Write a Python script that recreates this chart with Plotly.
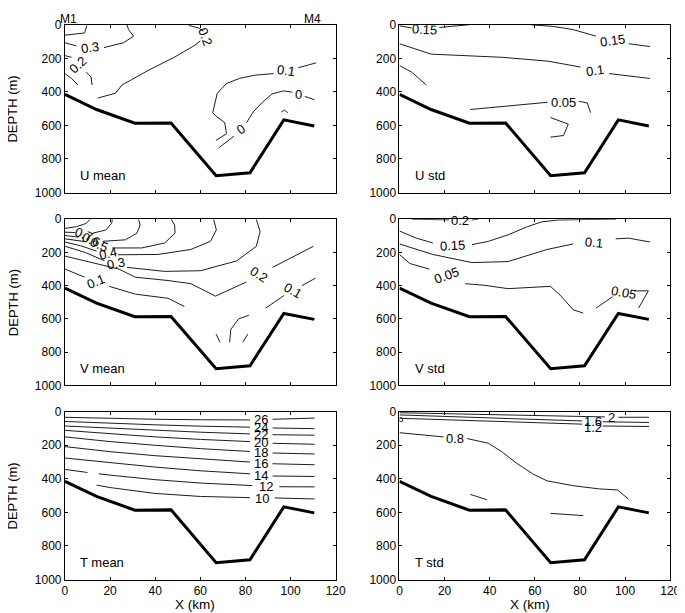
import plotly.graph_objects as go

# ---------------- data ----------------
BATHY_X = [0, 14, 31, 47, 67, 82, 97, 110.5]
BATHY_D = [415, 505, 587, 585, 900, 882, 567, 603]

X_TICKS = [0, 20, 40, 60, 80, 100, 120]
D_TICKS = [0, 200, 400, 600, 800, 1000]

PANEL_TITLES = ["U mean", "U std", "V mean", "V std", "T mean", "T std"]
MOORINGS = ["M1", "M4"]
MOORING_X = [1.5, 109.5]

# contour polylines: (level, x_km, depth_m); None = gap left for the inline label
U_MEAN_LINES = [
    (0.4, [0, 8.7, 9.7], [62, 49, 4]),
    (0.3, [0, 5, None, 17.3, 26, 30.4, 28.2, 27.5], [107, 126, None, 136, 107, 68, 29, 0]),
    (0.2, [0, 2.9, None, 9.4, 11.6, 12], [184, 194, None, 282, 311, 359]),
    (0.1, [0, 2.9, 5.8], [291, 320, 359]),
    (0.2, [14.5, 22.4, 25.3, 36.9, 48.4, 57.1, 60.0, None, 61.4, 59.3, 54.9],
          [437, 408, 359, 272, 194, 126, 97, None, 39, 19, 4]),
    (0.1, [111.3, 103.4, None, 92.5, 83.9, 77.3, 71.6, 67.5, 66.5, 65.5, 66.9, 70.8, 71.6, 66.9],
          [227, 256, None, 291, 301, 320, 350, 408, 466, 524, 544, 583, 650, 689]),
    (0.0, [110.6, 106.3, None, 100.8, 96.9, 91.8, 87.5, 83.4, 80.5, None, 74.9, 68.1],
          [447, 427, None, 402, 394, 412, 462, 520, 583, None, 664, 734]),
    (0.0, [95.9, 97.3, 98.7], [520, 509, 524]),
]
U_MEAN_LABELS = [("0.3", 11.3, 138, -8), ("0.2", 6.0, 238, -42), ("0.2", 62.3, 68, 70),
                 ("0.1", 97.8, 275, 8), ("0", 103.5, 418, 0), ("0", 77.8, 622, -30)]

U_STD_LINES = [
    (0.15, [0, 5.4, None, 17.7, 30.7], [6, 19, None, 16, 0]),
    (0.15, [58.2, 68.3, 77, 87.1, None, 101.6, 111], [0, 10, 29, 68, None, 113, 130]),
    (0.1, [0, 14, 45.6, 65.9, 80.2, None, 92.9, 100.1, 111], [113, 175, 194, 217, 252, None, 291, 301, 320]),
    (0.1, [0, 5.4, 11.9], [243, 282, 359]),
    (0.05, [31.4, 65.6, None, 79.6, 83.2, 84.7], [505, 462, None, 456, 466, 524]),
    (0.05, [66.9, 74.8, 72.7, 66.9], [553, 592, 660, 670]),
]
U_STD_LABELS = [("0.15", 11.2, 26, 3), ("0.15", 94.4, 95, -8), ("0.1", 86.5, 275, -8),
                ("0.05", 72.6, 462, 0)]

V_MEAN_LINES = [
    (0.8, [0, 5.1, 9.4, 11.2], [55, 45, 25, 0]),
    (0.7, [0, 4.5, None, 12.3, 18.1, 20.7, 21], [78, 80, None, 84, 65, 25, 0]),
    (0.6, [0, 6, None, 16.7, 26.8, 31.9, 33.3, 32.6], [98, 108, None, 133, 124, 84, 35, 0]),
    (0.5, [0, 9, None, 21, 34, 44.2, 48.8, 48.6, 47.1], [118, 135, None, 173, 173, 143, 84, 35, 0]),
    (0.4, [0, 7, 14, None, 23.5, 41.3, 55.8, 64.5, 67.1, 65.9], [137, 160, 192, None, 214, 212, 182, 133, 65, 0]),
    (0.3, [0, 9, 17.5, None, 27.5, 44.2, 60.1, 76.1, 84.8, 86.5, 84.8],
          [163, 200, 250, None, 290, 314, 310, 251, 163, 75, 0]),
    (0.2, [0, 12.3, 23.9, 31.2, 45.7, 55.8, 66.7, 80.4, None, 92, 110.1],
          [222, 261, 300, 349, 369, 388, 463, 378, None, 290, 163]),
    (0.1, [0, 8.7, None, 19.6, 31.2, 45.7, 52.9], [300, 349, None, 404, 451, 476, 525]),
    (0.1, [89, 97, None, 105, 111], [535, 460, None, 400, 355]),
    (0.1, [67, 68.7], [692, 741]),
    (0.2, [73, 73.5, 77, 81.5], [741, 663, 600, 578]),
    (0.1, [78.8, 81], [741, 692]),
]
V_MEAN_LABELS = [("0.7", 8.6, 90, 22), ("0.6", 11.4, 122, 22), ("0.5", 15.0, 152, 22),
                 ("0.4", 19.0, 205, -12), ("0.3", 22.5, 268, -10), ("0.1", 13.9, 376, -22),
                 ("0.2", 86.0, 332, 32), ("0.1", 101.0, 428, 30)]

V_STD_LINES = [
    (0.2, [5.4, 22, None, 32, 35], [0, 4, None, 4, 0]),
    (0.15, [0, 7.5, 14.8, None, 32.1, 39.4, 48.1, 56.7, 63, 70, 82, 96],
           [71, 114, 143, None, 153, 133, 94, 45, 16, 5, 2, 0]),
    (0.1, [0, 14.8, 32.1, 48.1, 65.4, 77, None, 95.8, 101.6, 111],
          [149, 212, 261, 255, 182, 149, None, 118, 114, 137]),
    (0.05, [0, 4.6, 13.3, None, 29.2, 37.9, 48.1, 66.9, 71.2, 77, 81.4],
           [212, 267, 300, None, 388, 398, 418, 404, 457, 545, 565]),
    (0.05, [87.1, 94.4, None, 104, 110.3, 106], [535, 467, None, 432, 431, 535]),
]
V_STD_LABELS = [("0.2", 27.0, 6, 0), ("0.15", 23.4, 158, -3), ("0.1", 86.2, 138, 5),
                ("0.05", 20.8, 340, -20), ("0.05", 99.3, 443, 10)]

T_MEAN_LINES = [
    (26, [0, 20, 40, 60, 82, None, 92, 110.6], [33, 40, 45, 48, 49, None, 45, 38]),
    (24, [0, 20, 40, 60, 82, None, 92, 110.6], [58, 70, 78, 86, 92, None, 97, 101]),
    (22, [0, 20, 40, 60, 82, None, 92, 110.6], [85, 98, 110, 122, 132, None, 137, 140]),
    (20, [0, 20, 40, 60, 82, None, 92, 110.6], [111, 132, 150, 165, 178, None, 188, 194]),
    (18, [0, 20, 40, 60, 82, None, 92, 110.6], [150, 178, 200, 220, 237, None, 246, 252]),
    (16, [0, 20, 40, 60, 82, None, 92, 110.6], [208, 238, 262, 282, 300, None, 310, 316]),
    (14, [0, 20, 40, 60, 82, None, 92, 110.6], [276, 305, 330, 352, 370, None, 383, 386]),
    (12, [0, 10, None, 15, 20, 40, 60, 83, None, 95, 110.6], [344, 362, None, 370, 378, 405, 425, 440, None, 447, 448]),
    (10, [14, 20, 40, 60, 82, None, 93, 110.6], [437, 452, 487, 505, 512, None, 514, 520]),
]
T_MEAN_LABELS = [("26", 86.8, 47, 0), ("24", 86.8, 94, 0), ("22", 86.8, 135, 0),
                 ("20", 86.8, 183, 0), ("18", 86.8, 242, 0), ("16", 86.8, 308, 0),
                 ("14", 86.8, 380, 0), ("12", 89.3, 447, 0), ("10", 87.5, 518, 0)]

T_STD_LINES = [
    (2.0, [0, 30, 60, 80, 91, None, 97, 110.6], [6, 13, 21, 27, 31, None, 33, 33]),
    (1.6, [0, 30, 60, 81, None, 90, 110.6], [19, 32, 45, 55, None, 60, 64]),
    (1.2, [0, 30, 60, 81, None, 90, 110.6], [39, 52, 64, 74, None, 85, 88]),
    (0.8, [0, 19.5, None, 30, 39.4, 45.2, 51.7, 59, 65.4, 77, 88.6, 96.6, 101.6],
          [125, 150, None, 160, 188, 237, 305, 370, 412, 441, 460, 466, 522]),
    (0.4, [31.4, 38.7], [493, 524]),
    (0.4, [66.9, 81.4], [606, 619]),
]
T_STD_LABELS = [("2", 94.0, 36, 0), ("1.6", 85.8, 58, 0), ("1.2", 85.8, 96, 0), ("0.8", 24.8, 158, 0)]
T_STD_RING_X = [0.6]
T_STD_RING_D = [47]

PANEL_LINES = [U_MEAN_LINES, U_STD_LINES, V_MEAN_LINES, V_STD_LINES, T_MEAN_LINES, T_STD_LINES]
PANEL_LABELS = [U_MEAN_LABELS, U_STD_LABELS, V_MEAN_LABELS, V_STD_LABELS, T_MEAN_LABELS, T_STD_LABELS]

# ---------------- layout geometry ----------------
W, H = 685, 613
X_DOMAINS = [[55 / W, 331 / W], [396 / W, 672 / W]]
Y_DOMAINS = [[1 - 181.7 / H, 1 - 10 / H], [1 - 379 / H, 1 - 209 / H], [1 - 577.7 / H, 1 - 406 / H]]

FONT = "Liberation Sans, Arial, Helvetica, sans-serif"
LINE_COLOR = "#1e1e1e"

fig = go.Figure()
annotations = []

for i in range(6):
    row, col = divmod(i, 2)
    n = i + 1
    xa = "x" if n == 1 else f"x{n}"
    ya = "y" if n == 1 else f"y{n}"
    for level, xs, ds in PANEL_LINES[i]:
        fig.add_trace(go.Scatter(x=xs, y=ds, xaxis=xa, yaxis=ya, mode="lines",
                                 line=dict(color=LINE_COLOR, width=1),
                                 connectgaps=False, showlegend=False, hoverinfo="skip"))
    fig.add_trace(go.Scatter(x=BATHY_X, y=BATHY_D, xaxis=xa, yaxis=ya, mode="lines",
                             line=dict(color="black", width=3), showlegend=False, hoverinfo="skip"))
    if i == 5:
        fig.add_trace(go.Scatter(x=T_STD_RING_X, y=T_STD_RING_D, xaxis=xa, yaxis=ya, mode="markers",
                                 marker=dict(symbol="circle-open", size=4, color=LINE_COLOR, line=dict(width=1)),
                                 showlegend=False, hoverinfo="skip"))
    for txt, lx, ld, ang in PANEL_LABELS[i]:
        annotations.append(dict(x=lx, y=ld, xref=xa, yref=ya, text=txt, showarrow=False,
                                textangle=ang, font=dict(family=FONT, size=13, color="black"),
                                xanchor="center", yanchor="middle"))
    annotations.append(dict(x=5.8, y=898, xref=xa, yref=ya, text=PANEL_TITLES[i], showarrow=False,
                            xanchor="left", yanchor="middle", font=dict(family=FONT, size=13, color="black")))

    axis_common = dict(showline=True, linecolor="black", linewidth=1, mirror="ticks",
                       ticks="inside", ticklen=3, tickcolor="black", showgrid=False, zeroline=False,
                       tickfont=dict(family=FONT, size=12, color="black"))
    fig.layout[f"xaxis{'' if n == 1 else n}"] = dict(
        domain=X_DOMAINS[col], anchor=ya, range=[0, 120], tickvals=X_TICKS,
        ticktext=[str(v) for v in X_TICKS], showticklabels=(row == 2), **axis_common)
    fig.layout[f"yaxis{'' if n == 1 else n}"] = dict(
        domain=Y_DOMAINS[row], anchor=xa, range=[1000, 0], tickvals=D_TICKS,
        ticktext=[str(v) for v in D_TICKS], **axis_common)

    if col == 0:
        annotations.append(dict(x=7 / W, y=(Y_DOMAINS[row][0] + Y_DOMAINS[row][1]) / 2, xref="paper",
                                yref="paper", text="DEPTH (m)", textangle=-90, showarrow=False,
                                xanchor="center", yanchor="middle", xshift=-5,
                                font=dict(family=FONT, size=13, color="black")))
    if row == 2:
        annotations.append(dict(x=(X_DOMAINS[col][0] + X_DOMAINS[col][1]) / 2, y=1 - 603 / H,
                                xref="paper", yref="paper", text="X (km)", showarrow=False,
                                xanchor="center", yanchor="middle", xshift=-5,
                                font=dict(family=FONT, size=13.5, color="black")))

for name, mx in zip(MOORINGS, MOORING_X):
    annotations.append(dict(x=mx, y=1 - 4 / H, xref="x", yref="paper", text=name, showarrow=False,
                            xanchor="center", yanchor="middle",
                            font=dict(family=FONT, size=12, color="black")))

fig.update_layout(width=W, height=H, margin=dict(l=0, r=0, t=0, b=0),
                  paper_bgcolor="white", plot_bgcolor="white", annotations=annotations,
                  font=dict(family=FONT, size=12, color="black"))

fig.write_html("out.html")
